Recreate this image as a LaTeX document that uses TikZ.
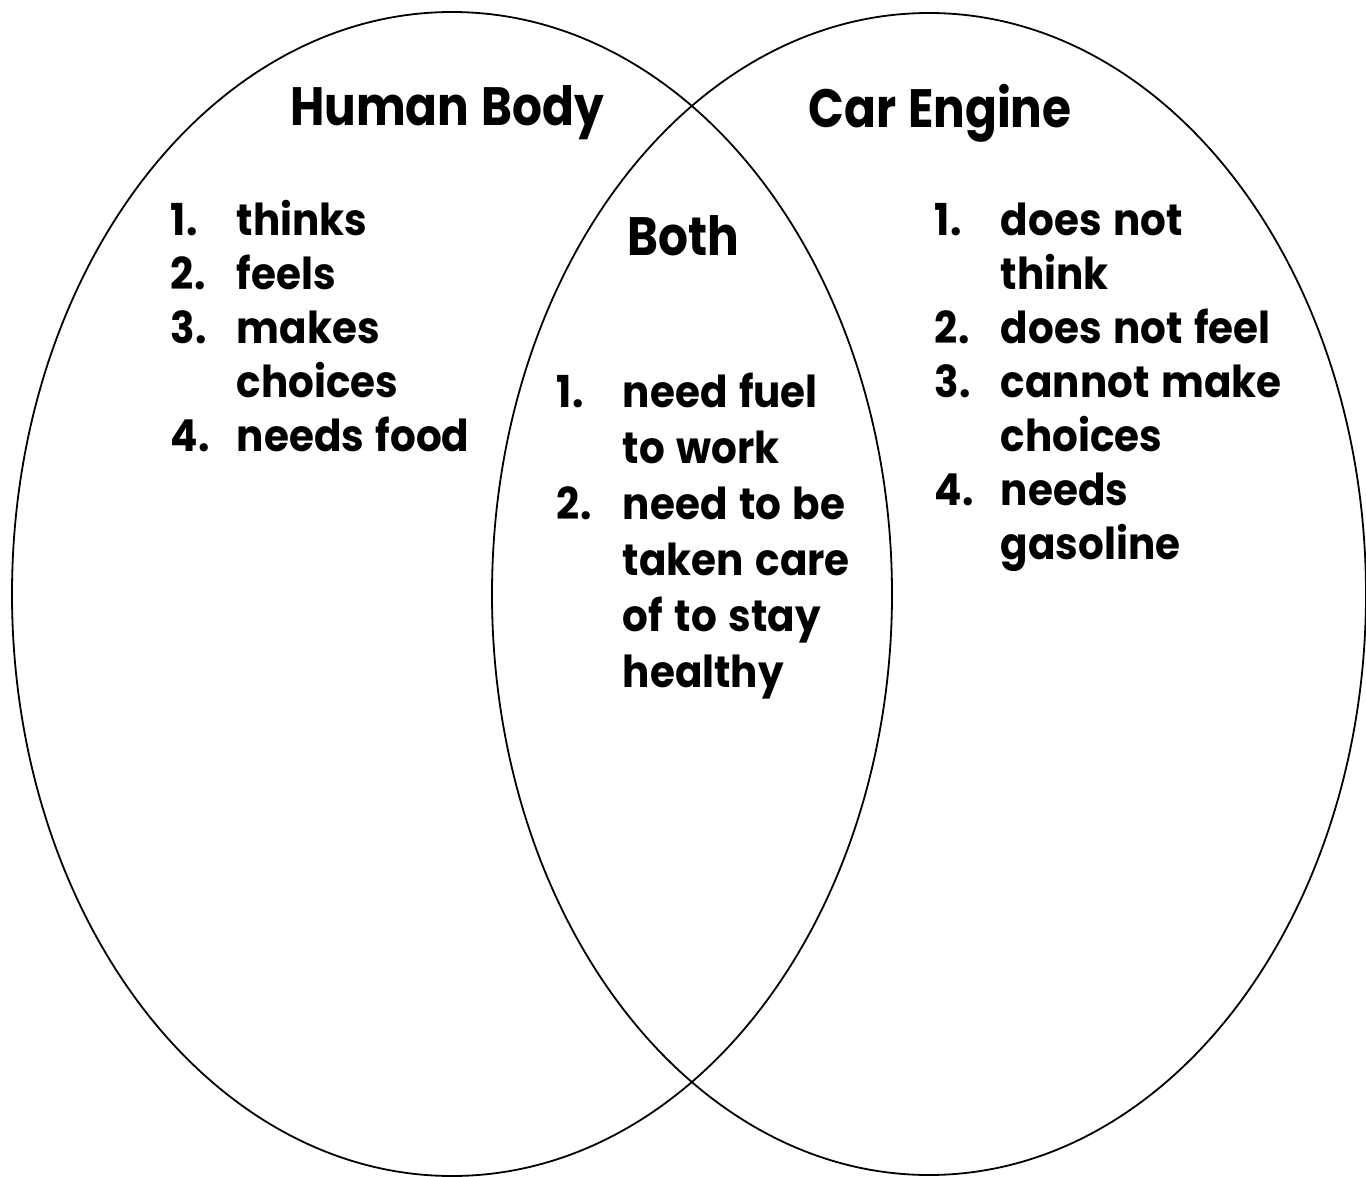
\documentclass[tikz,border=0pt]{standalone}
\usepackage{fontspec}
\setmainfont{Poppins}[BoldFont={* Bold}, BoldFeatures={FakeStretch=0.87, WordSpace=1.2}]
\newfontfamily\entryfont{Poppins}[UprightFont={* Bold}, FakeStretch=0.92, WordSpace=1.35]
\usetikzlibrary{positioning}
\tikzset{every picture/.style={line width=0.9pt}}
\tikzset{
  title/.style={font=\fontsize{27}{30}\selectfont\bfseries, anchor=base, inner sep=0pt},
  entry/.style={font=\fontsize{22}{27}\selectfont\entryfont, anchor=base west, inner sep=0pt},
}
\newcommand{\itm}[2]{\makebox[33pt][l]{#1}#2}

\begin{document}
\begin{tikzpicture}[x=0.5pt, y=-0.5pt]
    \useasboundingbox (0,0) rectangle (1366,1177);
    % circles
    \draw (452,594) ellipse [x radius=440, y radius=582];
    \draw (929,594) ellipse [x radius=437, y radius=581];
    % titles
    \node[title] (human) at (447,126) {Human Body};
    \node[title] (engine) at (940,128) {Car Engine};
    \node[title] (both) at (683,256) {Both};
    % human body
    \foreach \n/\t [count=\i] in {1./thinks, 2./feels, 3./makes, /choices, 4./needs food}
        \node[entry] (hb\i) at (170,{235+54*(\i-1)}) {\itm{\n}{\t}};
    % both
    \foreach \n/\t [count=\i] in {1./need fuel, /to work, 2./need to be, /taken care, /of to stay, /healthy}
        \node[entry] (bo\i) at (556,{407+56*(\i-1)}) {\itm{\n}{\t}};
    % car engine
    \foreach \n/\t [count=\i] in {1./does not, /think, 2./does not feel, 3./cannot make, /choices, 4./needs, /gasoline}
        \node[entry] (ce\i) at (934,{235+54*(\i-1)}) {\itm{\n}{\t}};
\end{tikzpicture}
\end{document}
